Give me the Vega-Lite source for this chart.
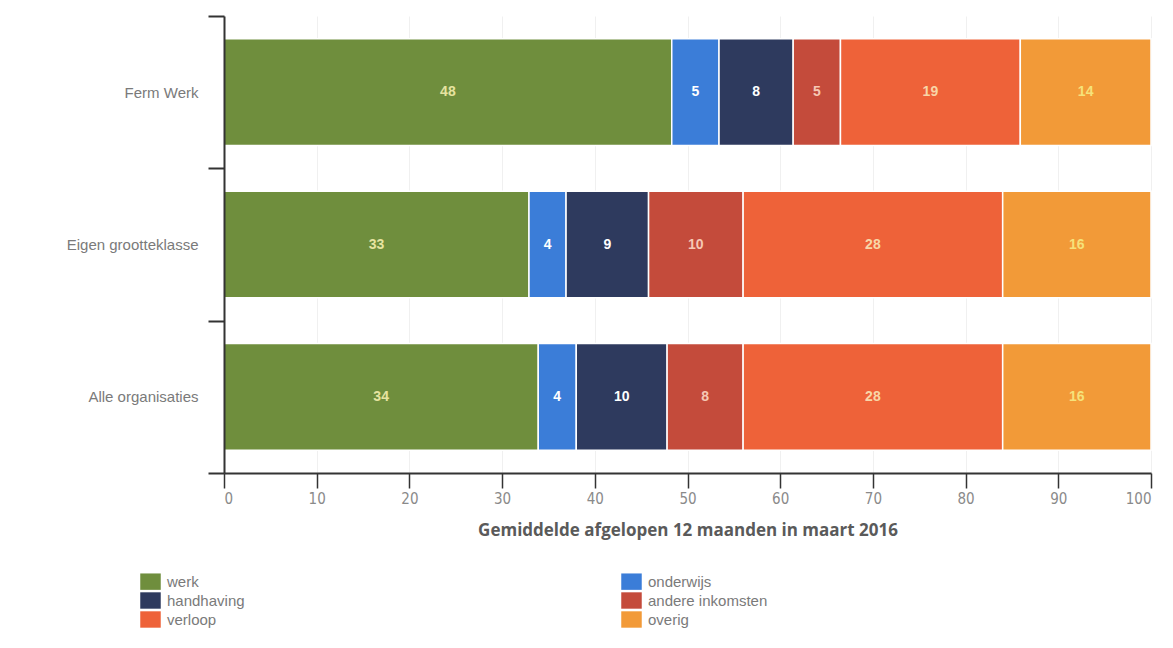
{
  "$schema": "https://vega.github.io/schema/vega-lite/v6.json",
  "width": 927,
  "height": 457,
  "autosize": "none",
  "padding": {"left": 224, "top": 16, "right": 22, "bottom": 175},
  "background": "white",
  "data": {
    "values": [
      {"org": "Ferm Werk", "cat": "werk", "value": 48.3},
      {"org": "Ferm Werk", "cat": "onderwijs", "value": 5.1},
      {"org": "Ferm Werk", "cat": "handhaving", "value": 8.0},
      {"org": "Ferm Werk", "cat": "andere inkomsten", "value": 5.1},
      {"org": "Ferm Werk", "cat": "verloop", "value": 19.4},
      {"org": "Ferm Werk", "cat": "overig", "value": 14.1},
      {"org": "Eigen grootteklasse", "cat": "werk", "value": 32.9},
      {"org": "Eigen grootteklasse", "cat": "onderwijs", "value": 4.0},
      {"org": "Eigen grootteklasse", "cat": "handhaving", "value": 8.9},
      {"org": "Eigen grootteklasse", "cat": "andere inkomsten", "value": 10.2},
      {"org": "Eigen grootteklasse", "cat": "verloop", "value": 28.0},
      {"org": "Eigen grootteklasse", "cat": "overig", "value": 16.0},
      {"org": "Alle organisaties", "cat": "werk", "value": 33.9},
      {"org": "Alle organisaties", "cat": "onderwijs", "value": 4.1},
      {"org": "Alle organisaties", "cat": "handhaving", "value": 9.8},
      {"org": "Alle organisaties", "cat": "andere inkomsten", "value": 8.2},
      {"org": "Alle organisaties", "cat": "verloop", "value": 28.0},
      {"org": "Alle organisaties", "cat": "overig", "value": 16.0}
    ]
  },
  "transform": [
    {"calculate": "indexof(['werk','onderwijs','handhaving','andere inkomsten','verloop','overig'], datum.cat)", "as": "ord"},
    {"stack": "value", "groupby": ["org"], "sort": [{"field": "ord", "order": "ascending"}], "as": ["v0", "v1"]},
    {"calculate": "(datum.v0 + datum.v1) / 2", "as": "mid"}
  ],
  "encoding": {
    "y": {
      "field": "org",
      "type": "nominal",
      "sort": ["Ferm Werk", "Eigen grootteklasse", "Alle organisaties"],
      "scale": {"paddingInner": 0, "paddingOuter": 0},
      "axis": {
        "title": null,
        "tickBand": "extent",
        "zindex": 1,
        "domainColor": "#333333",
        "domainWidth": 2,
        "tickColor": "#333333",
        "tickWidth": 2,
        "tickSize": 16,
        "labelFont": "Liberation Sans",
        "labelFontSize": 15,
        "labelColor": "#7a7a7a",
        "labelPadding": 10
      }
    }
  },
  "layer": [
    {
      "mark": {"type": "bar", "stroke": "white", "strokeWidth": 1.5, "height": {"band": 0.7}},
      "encoding": {
        "x": {
          "field": "v0",
          "type": "quantitative",
          "scale": {"domain": [0, 100], "nice": false},
          "axis": {
            "title": "Gemiddelde afgelopen 12 maanden in maart 2016",
            "titleFont": "Open Sans",
            "titleFontSize": 17,
            "titleFontWeight": "bold",
            "titleColor": "#5a5a5a",
            "titlePadding": 16,
            "values": [0, 10, 20, 30, 40, 50, 60, 70, 80, 90, 100],
            "domainColor": "#333333",
            "domainWidth": 2,
            "tickColor": "#333333",
            "tickWidth": 1.5,
            "tickSize": 15,
            "labelFont": "DejaVu Sans Condensed, Liberation Sans",
            "labelFontSize": 15,
            "labelColor": "#8a8a8a",
            "labelPadding": 3,
            "grid": true,
            "gridColor": "#f0f0f0"
          }
        },
        "x2": {"field": "v1"},
        "color": {
          "field": "cat",
          "type": "nominal",
          "scale": {
            "domain": ["werk", "handhaving", "verloop", "onderwijs", "andere inkomsten", "overig"],
            "range": ["#6f8e3d", "#2e3a5e", "#ee6239", "#3b7dd8", "#c44b3b", "#f29a38"]
          },
          "legend": {
            "title": null,
            "orient": "none",
            "legendX": -84,
            "legendY": 555,
            "columns": 2,
            "columnPadding": 376,
            "rowPadding": 0,
            "symbolType": "M-1,-0.8H1V0.8H-1Z",
            "symbolSize": 420,
            "symbolStrokeWidth": 0,
            "symbolOpacity": 1,
            "labelFont": "Liberation Sans",
            "labelFontSize": 15,
            "labelColor": "#7a7a7a",
            "labelOffset": 6
          }
        }
      }
    },
    {
      "mark": {"type": "text", "font": "Liberation Sans", "fontWeight": "bold", "fontSize": 14},
      "encoding": {
        "x": {"field": "mid", "type": "quantitative"},
        "text": {"field": "value", "type": "quantitative", "format": ".0f"},
        "color": {
          "field": "cat",
          "type": "nominal",
          "scale": {
            "domain": ["werk", "onderwijs", "handhaving", "andere inkomsten", "verloop", "overig"],
            "range": ["#e6e3a0", "#ffffff", "#ffffff", "#f6c8b4", "#f8d6a8", "#f6e27a"]
          },
          "legend": null
        }
      }
    }
  ],
  "resolve": {"scale": {"color": "independent"}},
  "config": {"view": {"stroke": null}}
}
